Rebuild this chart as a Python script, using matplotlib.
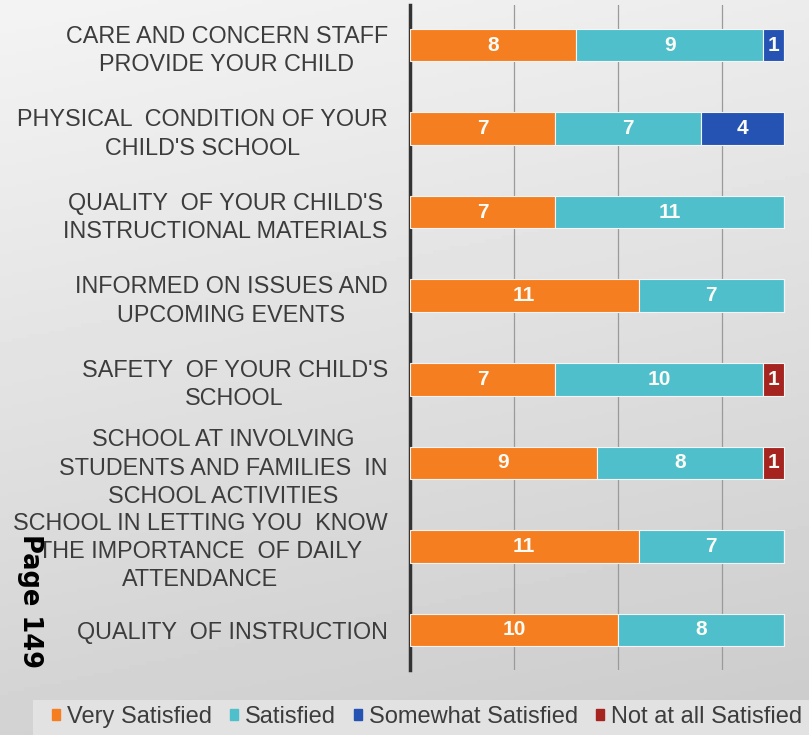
import matplotlib.pyplot as plt
import matplotlib.patches as mpatches
import numpy as np

plt.rcParams['font.family'] = ['Liberation Sans', 'DejaVu Sans']

# survey categories, top to bottom
categories = [
    "CARE AND CONCERN STAFF\nPROVIDE YOUR CHILD",
    "PHYSICAL  CONDITION OF YOUR\nCHILD'S SCHOOL",
    "QUALITY  OF YOUR CHILD'S\nINSTRUCTIONAL MATERIALS",
    "INFORMED ON ISSUES AND\nUPCOMING EVENTS",
    "SAFETY  OF YOUR CHILD'S\nSCHOOL",
    "SCHOOL AT INVOLVING\nSTUDENTS AND FAMILIES  IN\nSCHOOL ACTIVITIES",
    "SCHOOL IN LETTING YOU  KNOW\nTHE IMPORTANCE  OF DAILY\nATTENDANCE",
    "QUALITY  OF INSTRUCTION",
]
very_satisfied = [8, 7, 7, 11, 7, 9, 11, 10]
satisfied = [9, 7, 11, 7, 10, 8, 7, 8]
somewhat_satisfied = [1, 4, 0, 0, 0, 0, 0, 0]
not_satisfied = [0, 0, 0, 0, 1, 1, 0, 0]

series_names = ['Very Satisfied', 'Satisfied', 'Somewhat Satisfied', 'Not at all Satisfied']
COLORS = ['#F57F20', '#4FBFCB', '#2453B4', '#A5241F']

W, H = 809, 735
fig = plt.figure(figsize=(W / 100, H / 100), dpi=100)

# background gradient
bg = fig.add_axes([0, 0, 1, 1], zorder=-10)
yy, xx = np.mgrid[0:1:200j, 0:1:200j]
grad = 0.955 - 0.13 * yy - 0.03 * xx
bg.imshow(grad, cmap='gray', vmin=0, vmax=1, aspect='auto', extent=[0, 1, 0, 1], origin='upper')
bg.axis('off')
fig.patches.append(mpatches.Rectangle((33 / W, 0), 1, 35 / H, transform=fig.transFigure,
                                      facecolor='#e2e2e2', edgecolor='none', zorder=-5))

ax = fig.add_axes([410 / W, 1 - 670 / H, 399 / W, 665 / H])
ax.patch.set_alpha(0)

y = np.arange(len(categories))
data = [very_satisfied, satisfied, somewhat_satisfied, not_satisfied]
left = np.zeros(len(categories))
for vals, color, name in zip(data, COLORS, series_names):
    vals = np.array(vals)
    bars = ax.barh(y, vals, left=left, height=0.39, color=color, edgecolor='#f4f4f4',
                   linewidth=0.8, label=name, zorder=3)
    for b, v in zip(bars, vals):
        if v > 0:
            ax.text(b.get_x() + b.get_width() / 2, b.get_y() + b.get_height() / 2, str(v),
                    ha='center', va='center', color='#fbfbf5', fontsize=15, fontweight='bold', zorder=4)
    left += vals

ax.set_xlim(0, 19.2)
ax.set_ylim(len(categories) - 0.52, -0.48)
ax.set_xticks([5, 10, 15])
ax.set_xticklabels([])
ax.tick_params(axis='x', length=0)
ax.grid(axis='x', color='#9a9a9a', linewidth=0.9, zorder=0)
ax.set_yticks(y)
ax.set_yticklabels(categories, fontsize=16.8, color='#3c3c3c', multialignment='center', linespacing=1.3)
ax.tick_params(axis='y', length=0, pad=16)
for s in ['top', 'right', 'bottom']:
    ax.spines[s].set_visible(False)
ax.spines['left'].set_color('#333333')
ax.spines['left'].set_linewidth(2.5)

handles = [mpatches.Patch(color=c, label=n) for c, n in zip(COLORS, series_names)]
fig.legend(handles=handles, loc='center', bbox_to_anchor=(427 / W, 1 - 717 / H), ncol=4,
           frameon=False, fontsize=17, handlelength=0.35, handleheight=0.35, handletextpad=0.3,
           columnspacing=0.75, labelcolor='#3c3c3c')

fig.text(30 / W, 1 - 601 / H, 'Page 149', rotation=-90, fontsize=18.5, fontweight='bold',
         color='black', ha='center', va='center', family=['DejaVu Sans'])

fig.savefig('out.png', dpi=100)
